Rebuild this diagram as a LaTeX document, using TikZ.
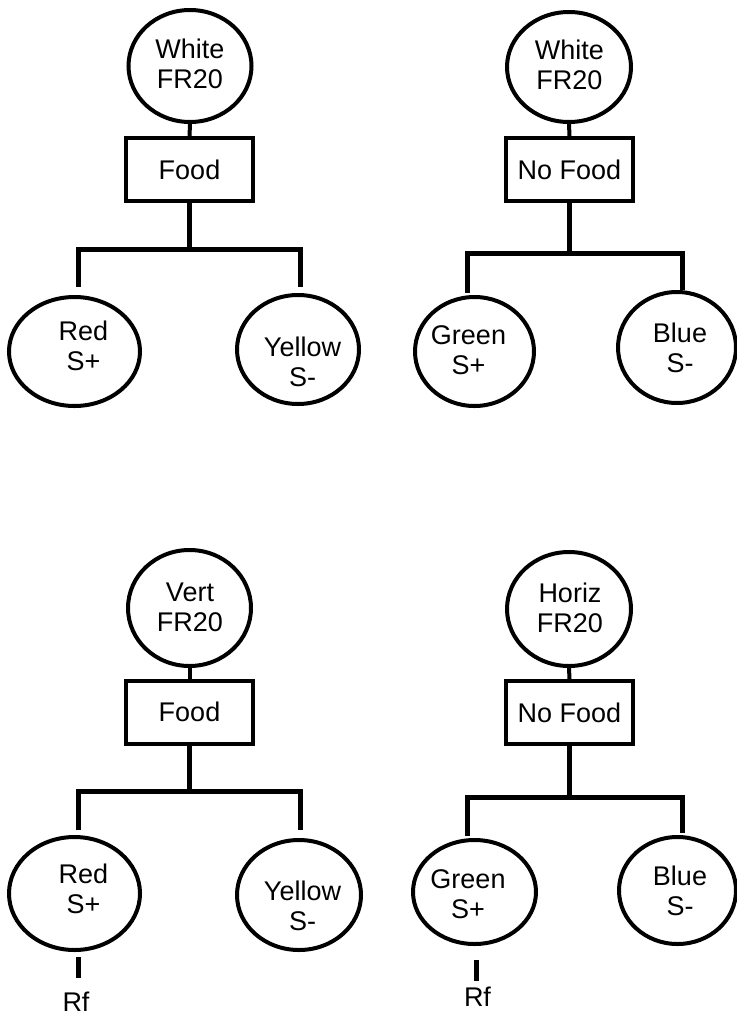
\documentclass[tikz,border=0pt]{standalone}
\usepackage{fontspec}
\setmainfont{Liberation Sans}
\usetikzlibrary{shapes.geometric}
\begin{document}
\begin{tikzpicture}[x=1pt,y=-1pt,
  oval/.style={ellipse, draw, line width=4pt, inner sep=0pt},
  box/.style={rectangle, draw, line width=4pt, inner sep=0pt, minimum width=127pt, minimum height=63pt, font=\fontsize{27}{30}\selectfont},
  lbl/.style={font=\fontsize{27}{30}\selectfont, align=center, inner sep=0pt},
  stem/.style={line width=4pt},
  conn/.style={line width=5pt, line join=miter},
]
\useasboundingbox (0,0) rectangle (736,1017);

% ---------- Panel 1 (top left) ----------
\node[oval, minimum width=123pt, minimum height=112pt,
      label={[lbl,yshift=2pt]center:White\\FR20}] (t1) at (190,66) {};
\node[box] (b1) at (189.5,169.5) {Food};
\node[oval, minimum width=131pt, minimum height=109pt,
      label={[lbl,xshift=9pt,yshift=5.5pt]center:Red\\S+}] (l1) at (74.5,351.5) {};
\node[oval, minimum width=122pt, minimum height=109pt,
      label={[lbl,xshift=4.5pt,yshift=-12.5pt]center:Yellow\\S-}] (r1) at (298,349.5) {};
\coordinate (j1) at (189.5,249.5);
\coordinate (dl1) at (78.5,287);
\coordinate (dr1) at (300.5,287);
\draw[stem] (t1.south) -- (b1.north);
\draw[conn] (b1.south) -- (b1.south |- j1);
\draw[conn] (dl1) -- (dl1 |- j1) -- (dr1 |- j1) -- (dr1);

% ---------- Panel 2 (top right) ----------
\node[oval, minimum width=124pt, minimum height=110pt,
      label={[lbl,xshift=0.5pt,yshift=2.5pt]center:White\\FR20}] (t2) at (569,67) {};
\node[box] (b2) at (569.5,169.5) {No Food};
\node[oval, minimum width=119pt, minimum height=109pt,
      label={[lbl,xshift=-6pt,yshift=1pt]center:Green\\S+}] (l2) at (474.5,351.5) {};
\node[oval, minimum width=118pt, minimum height=111pt,
      label={[lbl,xshift=3pt]center:Blue\\S-}] (r2) at (677,347.5) {};
\coordinate (j2) at (569.5,253);
\coordinate (dl2) at (467.5,293);
\coordinate (dr2) at (682.5,290);
\draw[stem] (t2.south) -- (b2.north);
\draw[conn] (b2.south) -- (b2.south |- j2);
\draw[conn] (dl2) -- (dl2 |- j2) -- (dr2 |- j2) -- (dr2);

% ---------- Panel 3 (bottom left) ----------
\node[oval, minimum width=123pt, minimum height=116pt,
      label={[lbl,xshift=0.5pt,yshift=0.5pt]center:Vert\\FR20}] (t3) at (189.5,608) {};
\node[box] (b3) at (189.5,712) {Food};
\node[oval, minimum width=131pt, minimum height=113pt,
      label={[lbl,xshift=9pt,yshift=4.5pt]center:Red\\S+}] (l3) at (74.5,893.5) {};
\node[oval, minimum width=124pt, minimum height=110pt,
      label={[lbl,xshift=3.5pt,yshift=-10.5pt]center:Yellow\\S-}] (r3) at (299,895) {};
\coordinate (j3) at (189.5,791);
\coordinate (dl3) at (78.5,830);
\coordinate (dr3) at (300.5,830);
\draw[stem] (t3.south) -- (b3.north);
\draw[conn] (b3.south) -- (b3.south |- j3);
\draw[conn] (dl3) -- (dl3 |- j3) -- (dr3 |- j3) -- (dr3);
\node[lbl] (rf3) at (76,1001.5) {Rf};
\coordinate (s3a) at (78.5,957);
\coordinate (s3b) at (78.5,978);
\draw[conn] (s3a) -- (s3b);

% ---------- Panel 4 (bottom right) ----------
\node[oval, minimum width=124pt, minimum height=114pt,
      label={[lbl,xshift=1pt,yshift=1.5pt]center:Horiz\\FR20}] (t4) at (569,609) {};
\node[box] (b4) at (569.5,712.5) {No Food};
\node[oval, minimum width=123pt, minimum height=104pt,
      label={[lbl,xshift=-6.5pt,yshift=-2pt]center:Green\\S+}] (l4) at (474.5,892) {};
\node[oval, minimum width=117pt, minimum height=107pt,
      label={[lbl,xshift=2.5pt]center:Blue\\S-}] (r4) at (677.5,890.5) {};
\coordinate (j4) at (569.5,797.5);
\coordinate (dl4) at (467.5,836);
\coordinate (dr4) at (682.5,833);
\draw[stem] (t4.south) -- (b4.north);
\draw[conn] (b4.south) -- (b4.south |- j4);
\draw[conn] (dl4) -- (dl4 |- j4) -- (dr4 |- j4) -- (dr4);
\node[lbl] (rf4) at (477.5,996.5) {Rf};
\coordinate (s4a) at (476.5,960);
\coordinate (s4b) at (476.5,981);
\draw[conn] (s4a) -- (s4b);
\end{tikzpicture}
\end{document}
